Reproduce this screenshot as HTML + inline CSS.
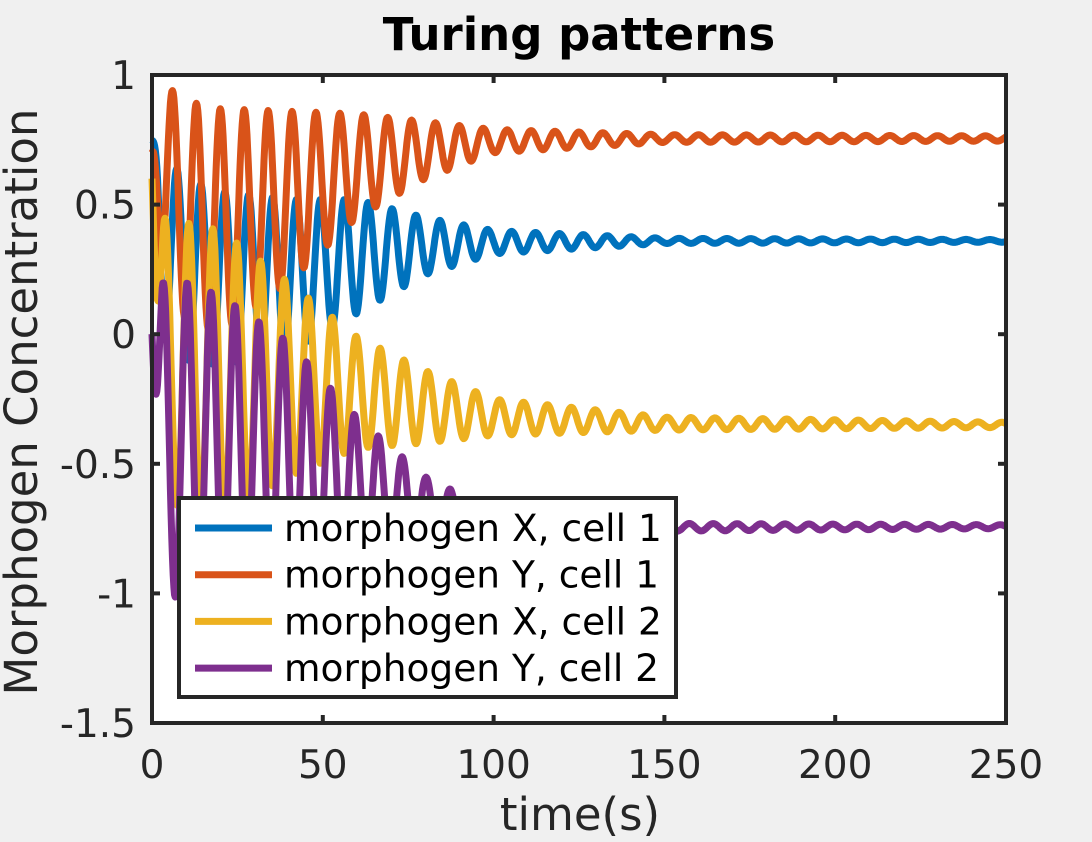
<!DOCTYPE html>
<html><head><meta charset="utf-8"><style>
body{margin:0;background:#f0f0f0;}
svg{display:block;font-family:"DejaVu Sans","Liberation Sans",sans-serif;}
</style></head><body>
<svg id="chart" width="1092" height="842">
<rect x="0" y="0" width="1092" height="842" fill="#f0f0f0"/>
<rect x="152" y="75" width="854" height="648" fill="#fff"/>
<g id="series"></g>
<g id="axes"></g>
<rect x="152" y="75" width="854" height="648" fill="none" stroke="#262626" stroke-width="4"/>
<text x="579" y="50" text-anchor="middle" font-size="45" font-weight="bold" fill="#000">Turing patterns</text>
<text x="580" y="830" text-anchor="middle" font-size="45" fill="#262626">time(s)</text>
<text transform="translate(37,402) rotate(-90)" text-anchor="middle" font-size="45" fill="#262626">Morphogen Concentration</text>
<g>
<rect x="179" y="498" width="497" height="199" fill="#fff" stroke="#262626" stroke-width="4"/>
<g id="legend-items"></g>
</g>
</svg>
<script>
const tickX=[0,50,100,150,200,250];
const tickY=[1,0.5,0,-0.5,-1,-1.5];
const seriesNames=["morphogen X, cell 1","morphogen Y, cell 1","morphogen X, cell 2","morphogen Y, cell 2"];
const colors=["#0072bd","#d95319","#edb120","#7e2f8e"];
// envelope sample times and upper/lower envelopes
const envT=[0,3,10,20,40,60,80,100,150,250];
const xc1Upper=[0.75,0.7,0.6,0.55,0.52,0.52,0.45,0.40,0.37,0.365];
const xc1Lower=[0.7,0.0,-0.1,-0.12,-0.07,0.08,0.23,0.31,0.35,0.355];
const yc1Upper=[0.7,0.97,0.9,0.87,0.86,0.85,0.82,0.79,0.77,0.765];
const yc1Lower=[0.7,0.25,0.05,0.0,0.2,0.45,0.6,0.7,0.74,0.745];
const xc2Upper=[0.62,0.45,0.43,0.4,0.2,-0.01,-0.14,-0.25,-0.32,-0.34];
const xc2Lower=[0.6,-0.6,-0.7,-0.7,-0.55,-0.44,-0.42,-0.39,-0.37,-0.36];
const yc2Upper=[0.05,0.2,0.2,0.15,-0.03,-0.32,-0.55,-0.68,-0.73,-0.735];
const yc2Lower=[0.0,-1.03,-1.0,-1.0,-0.95,-0.85,-0.8,-0.78,-0.76,-0.75];
const period=7.0;
const phases=[0.3,0.0,3.8,3.3];
const uppers=[xc1Upper,yc1Upper,xc2Upper,yc2Upper];
const lowers=[xc1Lower,yc1Lower,xc2Lower,yc2Lower];

const X0=152,X1=1006,Y0=723,Y1=75;
const xs=v=>X0+(v-0)/(250-0)*(X1-X0);
const ys=v=>Y0+(v-(-1.5))/(1-(-1.5))*(Y1-Y0);
const NS="http://www.w3.org/2000/svg";
function interp(arr,t){for(let i=0;i<envT.length-1;i++){if(t<=envT[i+1]){const f=(t-envT[i])/(envT[i+1]-envT[i]);return arr[i]+f*(arr[i+1]-arr[i]);}}return arr[arr.length-1];}
const sg=document.getElementById('series');
for(let s=0;s<4;s++){
  let pts=[];
  for(let t=0;t<=250;t+=0.2){
    const u=interp(uppers[s],t),l=interp(lowers[s],t);
    const m=(u+l)/2,a=(u-l)/2;
    const v=m+a*Math.cos(2*Math.PI*(t-(s==1?6:0)-phases[s])/period);
    pts.push(xs(t).toFixed(1)+","+ys(v).toFixed(1));
  }
  const p=document.createElementNS(NS,'polyline');
  p.setAttribute('points',pts.join(' '));
  p.setAttribute('fill','none');p.setAttribute('stroke',colors[s]);p.setAttribute('stroke-width','7');
  p.setAttribute('stroke-linejoin','round');
  
  
  sg.appendChild(p);
}
const ag=document.getElementById('axes');
tickX.forEach(v=>{
  const x=xs(v);
  [[Y0,Y0-8],[Y1,Y1+8]].forEach(([a,b])=>{const l=document.createElementNS(NS,'line');l.setAttribute('x1',x);l.setAttribute('x2',x);l.setAttribute('y1',a);l.setAttribute('y2',b);l.setAttribute('stroke','#262626');l.setAttribute('stroke-width','4');
  
  
  ag.appendChild(l);});
  const t=document.createElementNS(NS,'text');t.setAttribute('x',x);t.setAttribute('y',778);t.setAttribute('text-anchor','middle');t.setAttribute('font-size','39');t.setAttribute('fill','#262626');t.textContent=v;
  
  
  ag.appendChild(t);
});
tickY.forEach(v=>{
  const y=ys(v);
  [[X0,X0+8],[X1,X1-8]].forEach(([a,b])=>{const l=document.createElementNS(NS,'line');l.setAttribute('y1',y);l.setAttribute('y2',y);l.setAttribute('x1',a);l.setAttribute('x2',b);l.setAttribute('stroke','#262626');l.setAttribute('stroke-width','4');
  
  
  ag.appendChild(l);});
  const t=document.createElementNS(NS,'text');t.setAttribute('x',136);t.setAttribute('y',y+14);t.setAttribute('text-anchor','end');t.setAttribute('font-size','39');t.setAttribute('fill','#262626');t.textContent=v;
  
  
  ag.appendChild(t);
});
const lg=document.getElementById('legend-items');
seriesNames.forEach((n,i)=>{
  const y=528+i*46.7;
  const l=document.createElementNS(NS,'line');l.setAttribute('x1',195);l.setAttribute('x2',272);l.setAttribute('y1',y);l.setAttribute('y2',y);l.setAttribute('stroke',colors[i]);l.setAttribute('stroke-width','7');
  
  
  lg.appendChild(l);
  const t=document.createElementNS(NS,'text');t.setAttribute('x',284);t.setAttribute('y',y+13);t.setAttribute('font-size','37.5');t.setAttribute('fill','#000');t.textContent=n;
  
  
  lg.appendChild(t);
});
</script>
</body></html>
